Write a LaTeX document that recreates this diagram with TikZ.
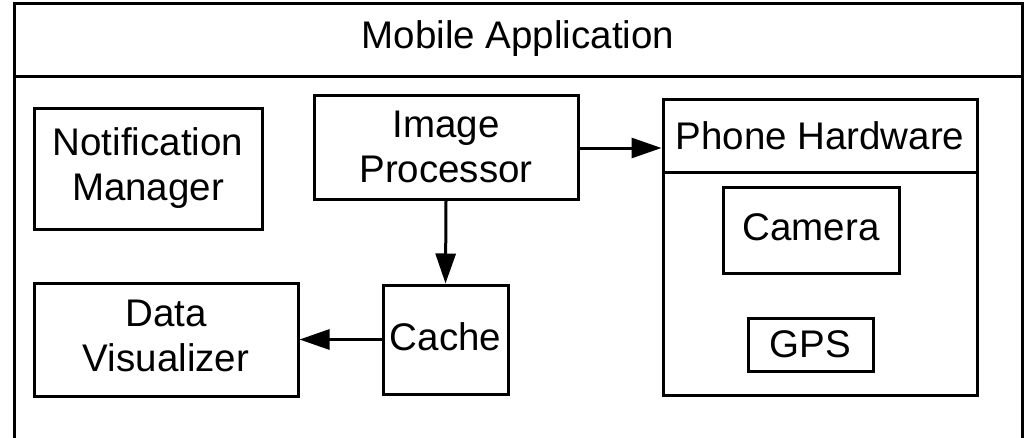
\documentclass[tikz,border=0pt]{standalone}
\usepackage{fontspec}
\setmainfont{Liberation Sans}
\usetikzlibrary{arrows.meta}
\begin{document}
\begin{tikzpicture}[x=1pt,y=-1pt,
  box/.style={draw, line width=3pt, inner sep=0pt, align=center, font=\fontsize{38.5}{45}\selectfont},
  txt/.style={inner sep=0pt, align=center, font=\fontsize{38.5}{45}\selectfont},
  conn/.style={line width=3pt, -{Triangle[length=30pt,width=20pt]}}]
\useasboundingbox (0,0) rectangle (1027,437);
\fill[white] (0,0) rectangle (1027,437);
% outer container
\draw[line width=3pt] (14,445) -- (14,3) -- (1022,3) -- (1022,445);
\draw[line width=3pt] (14,76) -- (1022,76);
\node[txt] (title) at (518,39) {Mobile Application};
% components
\node[box, minimum width=228pt, minimum height=121pt] (nm) at (148,168.5) {\raisebox{3pt}{\begin{tabular}{@{}c@{}}Notification\\Manager\end{tabular}}};
\node[box, minimum width=264pt, minimum height=104pt] (ip) at (446,147) {Image\\Processor};
\node[box, minimum width=125pt, minimum height=109pt] (cache) at (445.5,339.5) {\raisebox{6pt}{Cache}};
\node[box, minimum width=264pt, minimum height=113pt] (dv) at (166,339.5) {\raisebox{4pt}{\begin{tabular}{@{}c@{}}Data\\Visualizer\end{tabular}}};
% phone hardware container
\node[draw, line width=3pt, minimum width=314pt, minimum height=296pt, inner sep=0pt] (phone) at (820,247) {};
\node[box, minimum width=314pt, minimum height=73pt] (phhead) at (820,135.5) {Phone Hardware};
\node[box, minimum width=176pt, minimum height=86pt] (cam) at (811,230) {\raisebox{5pt}{Camera}};
\node[box, minimum width=125pt, minimum height=53pt] (gps) at (810.5,344.5) {GPS};
% connectors
\draw[conn] (ip.east |- 0,148) -- (phone.west |- 0,148);
\draw[conn] (ip.south) -- (cache.north);
\draw[conn] (cache.west) -- (dv.east);
\end{tikzpicture}
\end{document}
